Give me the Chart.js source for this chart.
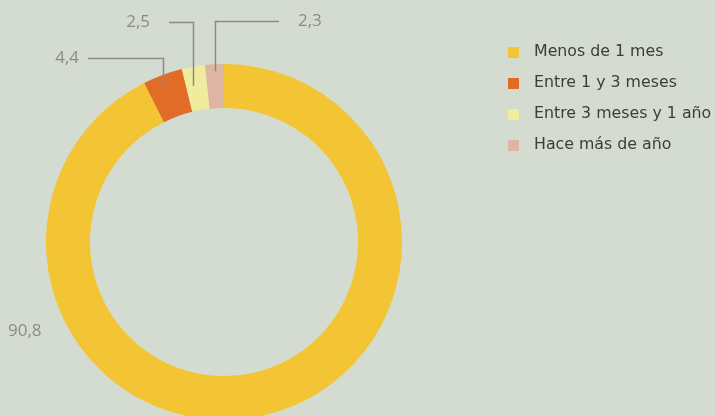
<!DOCTYPE html>
<html lang="es">
<head>
  <meta charset="UTF-8" />
  <title>Doughnut</title>
  <script src="https://cdn.jsdelivr.net/npm/chart.js"></script>
  <style>
    html, body { margin: 0; padding: 0; background: #d4dcd2; overflow: hidden; }
    #wrap { position: relative; width: 715px; height: 430px; }
  </style>
</head>
<body>
  <div id="wrap"><canvas id="chart" width="715" height="430"></canvas></div>

  <script>
    const categories = ['Menos de 1 mes', 'Entre 1 y 3 meses', 'Entre 3 meses y 1 año', 'Hace más de año'];
    // arc shares as drawn in the picture (the printed labels are below)
    const values = [92.6, 3.6, 2.1, 1.7];
    const valueLabels = ['90,8', '4,4', '2,5', '2,3'];
    const colors = ['#f3c534', '#e06c28', '#efec9d', '#ddb5a2'];

    const FONT = '"Open Sans", sans-serif';
    const GREY = '#8a8a8a';

    // value labels + leader lines, anchored to each arc
    const labelPlugin = {
      id: 'labels',
      afterDraw(chart) {
        const ctx = chart.ctx;
        const arcs = chart.getDatasetMeta(0).data;
        // t = position along the arc, inset = distance in from the outer edge
        const layout = [
          null,
          { t: 0.42, inset: 10, y: 58, lineEnd: 88, tx: 79, align: 'right' },
          { t: 0.31, inset: 19, y: 22, lineEnd: 169, tx: 150, align: 'right' },
          { t: 0.5, inset: 7, y: 21, lineEnd: 279, tx: 298, align: 'left' }
        ];
        ctx.save();
        ctx.font = '17px ' + FONT;
        ctx.fillStyle = GREY;
        ctx.strokeStyle = GREY;
        ctx.lineWidth = 1.5;
        ctx.textBaseline = 'middle';
        arcs.forEach((arc, i) => {
          const p = arc.getProps(['x', 'y', 'startAngle', 'endAngle', 'outerRadius']);
          if (i === 0) {
            ctx.textAlign = 'left';
            ctx.fillText(valueLabels[i], 8, 331);
            return;
          }
          const l = layout[i];
          const a = p.startAngle + (p.endAngle - p.startAngle) * l.t;
          const r = p.outerRadius - l.inset;
          const ax = Math.round(p.x + Math.cos(a) * r) + 0.5;
          const ay = p.y + Math.sin(a) * r;
          ctx.beginPath();
          ctx.moveTo(ax, ay);
          ctx.lineTo(ax, l.y + 0.5);
          ctx.lineTo(l.lineEnd, l.y + 0.5);
          ctx.stroke();
          ctx.textAlign = l.align;
          ctx.fillText(valueLabels[i], l.tx, l.y);
        });

        // legend
        ctx.font = '15.8px "DejaVu Sans", sans-serif';
        ctx.textAlign = 'left';
        categories.forEach((c, i) => {
          const y = 52 + i * 31;
          ctx.fillStyle = colors[i];
          ctx.fillRect(508, y - 5, 11, 11);
          ctx.fillStyle = '#3c3c3c';
          ctx.fillText(c, 534, y);
        });
        ctx.restore();
      }
    };

    new Chart(document.getElementById('chart'), {
      type: 'doughnut',
      data: {
        labels: categories,
        datasets: [{
          data: values,
          backgroundColor: colors,
          borderWidth: 0
        }]
      },
      options: {
        responsive: false,
        animation: false,
        cutout: '75.3%',
        layout: { padding: { left: 46, right: 313, top: 64, bottom: 10 } },
        plugins: {
          legend: { display: false },
          tooltip: { enabled: false }
        }
      },
      plugins: [labelPlugin]
    });
  </script>
</body>
</html>
